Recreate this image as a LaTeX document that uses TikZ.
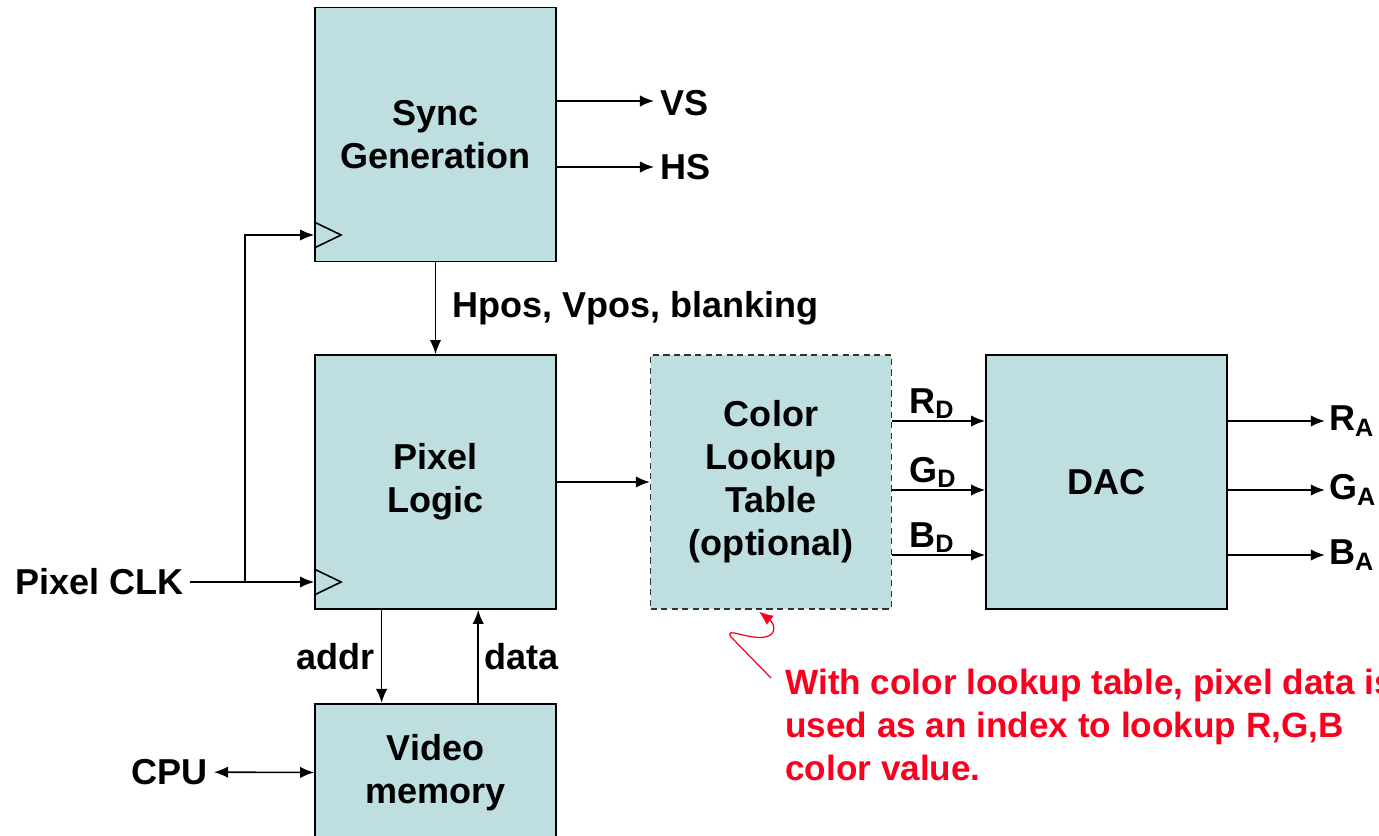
\documentclass[tikz,border=0pt]{standalone}
\usepackage{fontspec}
\setmainfont{Liberation Sans}
\usepackage{xcolor}
\usepackage{tikz}
\usetikzlibrary{arrows.meta, positioning, calc}
\definecolor{boxfill}{RGB}{190,222,224}
\definecolor{notered}{RGB}{250,0,30}

\begin{document}
\begin{tikzpicture}[x=0.02cm, y=-0.02cm,
    every node/.style={font=\bfseries\fontsize{20.5}{24.5}\selectfont},
    block/.style={draw, fill=boxfill, line width=1pt, minimum width=4.82cm, minimum height=5.08cm, align=center},
    sig/.style={line width=0.9pt, -{Latex[length=8pt,width=6.5pt]}}]
    \useasboundingbox (0,0) rectangle (1379,835);
    % Blocks
    \node[block] (sync) at (435.5,134.5) {Sync\\Generation};
    \node[block] (pix) at (435.5,482) {Pixel\\Logic};
    \node[block, draw=black!80, line width=0.8pt, dash pattern=on 3.5pt off 2.5pt] (clut) at (771,482) {Color\\Lookup\\Table\\(optional)};
    \node[block] (dac) at (1106.5,482) {DAC};
    \node[block, minimum height=2.76cm, anchor=north] (vmem) at (435.5,703) {Video\\memory};
    % Sync outputs
    \node[anchor=west] (vs) at (654,103) {VS};
    \node[anchor=west] (hs) at (654,167) {HS};
    \draw[sig] (sync.east |- 0,101) -- (vs.west |- 0,101);
    \draw[sig] (sync.east |- hs) -- (hs);
    % Clock inputs
    \node[anchor=east] (pclk) at (190,582) {Pixel CLK};
    \coordinate (fork) at (245,582);
    \draw[sig] (pclk) -- (pix.west |- pclk);
    \draw[sig] (fork) |- (sync.west |- 0,235);
    \foreach \n/\y in {sync/235, pix/582}
        \draw[line width=0.9pt] (\n.west |- 0,\y) ++(0,-13) -- ++(27,13) -- ++(-27,13);
    % Pixel path
    \draw[sig] (sync) -- node[right, xshift=0.2cm] {Hpos, Vpos, blanking} (pix);
    \draw[sig] (pix) -- (clut);
    \foreach \y/\c in {421/R, 490/G, 555/B} {
        \draw[sig] (clut.east |- 0,\y) -- (dac.west |- 0,\y);
        \node[anchor=south west, inner sep=1pt, xshift=0.3cm] at (clut.east |- 0,\y) {\c\textsubscript{D}};
        \draw[sig] (dac.east |- 0,\y) -- ++(97,0) node[anchor=west, inner sep=2pt] {\c\textsubscript{A}};
    }
    % Memory
    \draw[sig] ($(pix.south west)!0.278!(pix.south east)$) -- node[left] {addr} ($(vmem.north west)!0.278!(vmem.north east)$);
    \draw[sig] ($(vmem.north west)!0.676!(vmem.north east)$) -- node[right] {data} ($(pix.south west)!0.676!(pix.south east)$);
    \node[anchor=east] (cpu) at (214,772) {CPU};
    \draw[line width=0.9pt, {Latex[length=8pt,width=6.5pt]}-{Latex[length=8pt,width=6.5pt]}] (cpu) -- (vmem);
    % Note
    \node[anchor=north west, align=left, inner sep=0, text=notered, font=\bfseries\fontsize{20}{24.5}\selectfont] (note) at (785,669) {With color lookup table, pixel data is\\used as an index to lookup R,G,B\\color value.};
    \draw[notered, line width=0.7pt, -{Latex[length=8pt,width=6.5pt]}] ([shift={(-14,9)}]note.north west) -- (731,637) .. controls (724,626) and (748,640) .. (765,637) .. controls (777,635) and (775,624) .. ([shift={(-12,2)}]clut.south);
\end{tikzpicture}
\end{document}
